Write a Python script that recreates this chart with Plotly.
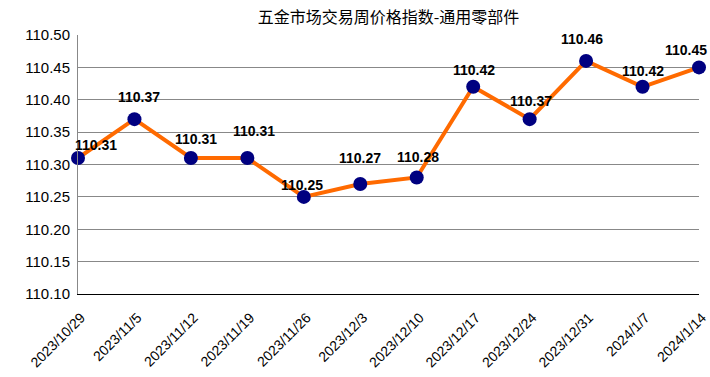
import plotly.graph_objects as go

dates = ["2023/10/29", "2023/11/5", "2023/11/12", "2023/11/19", "2023/11/26", "2023/12/3",
         "2023/12/10", "2023/12/17", "2023/12/24", "2023/12/31", "2024/1/7", "2024/1/14"]
values = [110.31, 110.37, 110.31, 110.31, 110.25, 110.27, 110.28, 110.42, 110.37, 110.46, 110.42, 110.45]
y_ticks = [110.10, 110.15, 110.20, 110.25, 110.30, 110.35, 110.40, 110.45, 110.50]

# label offsets in pixels (style only)
label_dx = [18, 5, 5, 7, -2, 0, 1, 1, 1, -4, 0, -13]
label_dy = [13, 22, 19, 27, 12, 26, 20, 17, 18, 22, 16, 17]

fig = go.Figure()
fig.add_trace(go.Scatter(
    x=list(range(len(dates))), y=values, mode="lines+markers",
    line=dict(color="#FF6A00", width=4),
    marker=dict(color="#000080", size=14),
    cliponaxis=False, hoverinfo="skip",
))

for i, v in enumerate(values):
    fig.add_annotation(x=i, y=v, text=f"{v:.2f}", showarrow=False,
                       xshift=label_dx[i], yshift=label_dy[i],
                       font=dict(family="Arial, Liberation Sans", size=14, color="black", weight="bold"))

fig.update_layout(
    width=710, height=377,
    margin=dict(l=78, r=11, t=35, b=83),
    paper_bgcolor="white", plot_bgcolor="white",
    showlegend=False,
    title=dict(text="五金市场交易周价格指数-通用零部件", x=(78 + 699) / 2 / 710, xanchor="center",
               y=1 - 17 / 377, yanchor="middle",
               font=dict(family="Noto Sans CJK SC", size=16, color="black")),
    font=dict(family="Arial, Liberation Sans", color="black"),
)
fig.update_xaxes(
    tickmode="array", tickvals=list(range(len(dates))), ticktext=dates,
    range=[0, len(dates) - 1], tickangle=-45,
    tickfont=dict(size=14, color="black"),
    showgrid=False, showline=True, linecolor="black", linewidth=1,
    ticks="", zeroline=False, automargin=False,
    ticklabelstandoff=9, ticklabelshift=3, ticklabeloverflow="allow",
)
fig.update_yaxes(
    range=[110.10, 110.50], tickvals=y_ticks, tickformat=".2f",
    tickfont=dict(size=15, color="black"),
    showgrid=True, gridcolor="#888888", gridwidth=1,
    showline=True, linecolor="#888888", linewidth=1,
    ticks="", zeroline=False, automargin=False, ticklabelstandoff=4,
)

fig.write_html("out.html", config={"displayModeBar": False},
               post_script="document.body.style.margin='0';")
